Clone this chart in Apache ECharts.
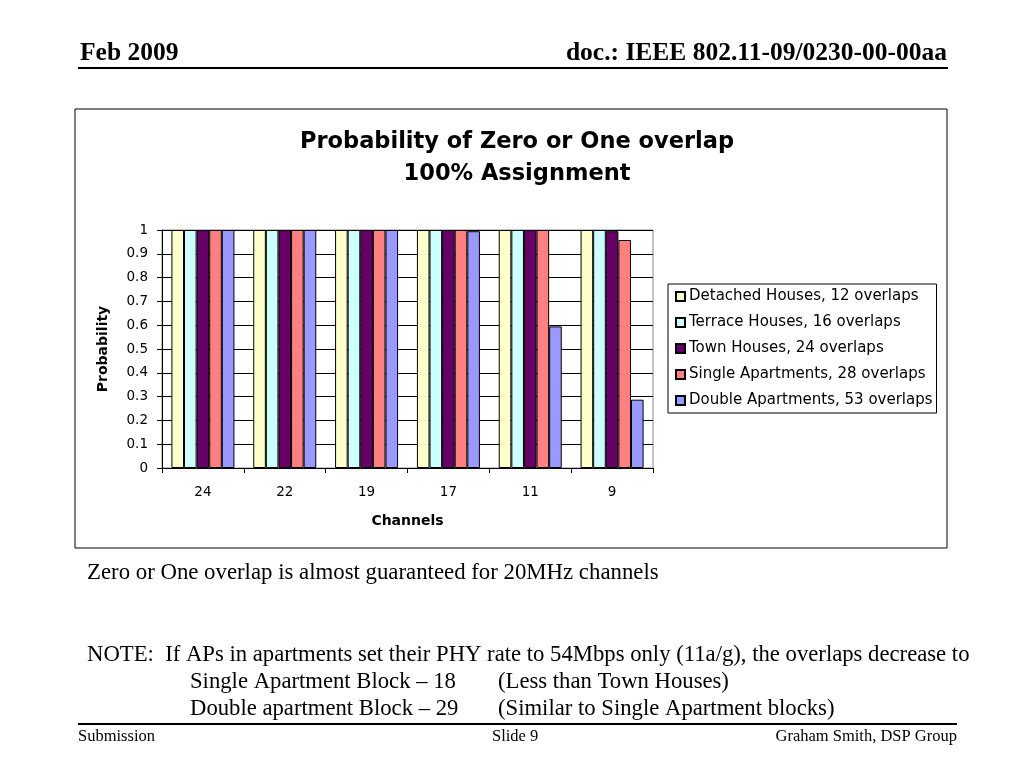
<!DOCTYPE html>
<html><head><meta charset="utf-8">
<script src="https://cdn.jsdelivr.net/npm/echarts@6/dist/echarts.min.js"></script>
<style>html,body{margin:0;padding:0;background:#fff}#c{width:1024px;height:768px}</style>
</head><body><div id="c"></div>
<script>
const categories = ['24','22','19','17','11','9'];
const seriesNames = ['Detached Houses, 12 overlaps','Terrace Houses, 16 overlaps','Town Houses, 24 overlaps','Single Apartments, 28 overlaps','Double Apartments, 53 overlaps'];
const detached = [1,1,1,1,1,1];
const terrace = [1,1,1,1,1,1];
const town = [1,1,1,1,1,0.995];
const single = [1,1,1,1,1,0.958];
const double_ = [1,1,1,0.995,0.595,0.287];
const colors = ['#FFFFCC','#CCFFFF','#660066','#FF8080','#9999FF'];
const yTicks = [0,0.1,0.2,0.3,0.4,0.5,0.6,0.7,0.8,0.9,1];

const values = [detached, terrace, town, single, double_];
const sans = 'DejaVu Sans';
const chart = echarts.init(document.getElementById('c'));
chart.setOption({
  animation:false,
  backgroundColor:'#fff',
  title:{text:'Probability of Zero or One overlap\n100% Assignment',left:512,textAlign:'center',top:121,
    textStyle:{fontFamily:sans,fontSize:22.5,fontWeight:'bold',color:'#000',lineHeight:32}},
  legend:{orient:'vertical',left:668,top:284,padding:[5,4,5,7],itemGap:11,
    itemWidth:9,itemHeight:9,icon:'rect',borderColor:'#000',borderWidth:1,
    textStyle:{fontFamily:sans,fontSize:15,color:'#000',padding:[0,0,0,-1]},
    data:seriesNames},
  grid:{left:162,top:230,width:491,height:238,show:true,borderColor:'#888',borderWidth:1},
  xAxis:{type:'category',data:categories,
    axisLine:{lineStyle:{color:'#000'}},axisTick:{show:true,length:5,lineStyle:{color:'#000'}},
    axisLabel:{fontFamily:sans,fontSize:13.5,color:'#000',margin:17},
    name:'Channels',nameLocation:'middle',nameGap:46,
    nameTextStyle:{fontFamily:sans,fontSize:14,fontWeight:'bold',color:'#000'}},
  yAxis:{type:'value',min:0,max:1,interval:0.1,
    axisLine:{show:true,lineStyle:{color:'#000'}},axisTick:{show:true,length:5,lineStyle:{color:'#000'}},
    axisLabel:{fontFamily:sans,fontSize:13.5,color:'#000',margin:14,formatter:v=>String(Math.round(v*10)/10)},
    splitLine:{lineStyle:{color:'#000'}},
    name:'Probability',nameLocation:'middle',nameGap:52,
    nameTextStyle:{fontFamily:sans,fontSize:14,fontWeight:'bold',color:'#000'}},
  series: seriesNames.map((n,i)=>({name:n,type:'bar',data:values[i],barGap:'0%',barCategoryGap:'23%',
    itemStyle:{color:colors[i],borderColor:'#000',borderWidth:1}})),
  graphic:[
    {type:'text',left:80,top:40,style:{text:'Feb 2009',font:'bold 25.5px "Liberation Serif"',fill:'#000'}},
    {type:'text',right:77,top:40,style:{text:'doc.: IEEE 802.11-09/0230-00-00aa',font:'bold 25.5px "Liberation Serif"',fill:'#000'}},
    {type:'line',shape:{x1:78,y1:68,x2:948,y2:68},style:{stroke:'#000',lineWidth:2}},
    {type:'rect',shape:{x:75,y:109,width:872,height:439},style:{fill:'none',stroke:'#000',lineWidth:1},z:-1},
    {type:'text',left:87,top:562,style:{text:'Zero or One overlap is almost guaranteed for 20MHz channels',font:'22.8px "Liberation Serif"',fill:'#000'}},
    {type:'text',left:87,top:644,style:{text:'NOTE:  If APs in apartments set their PHY rate to 54Mbps only (11a/g), the overlaps decrease to',font:'22.7px "Liberation Serif"',fill:'#000'}},
    {type:'text',left:190,top:671,style:{text:'Single Apartment Block \u2013 18',font:'22.7px "Liberation Serif"',fill:'#000'}},
    {type:'text',left:498,top:671,style:{text:'(Less than Town Houses)',font:'22.7px "Liberation Serif"',fill:'#000'}},
    {type:'text',left:190,top:698,style:{text:'Double apartment Block \u2013 29',font:'22.7px "Liberation Serif"',fill:'#000'}},
    {type:'text',left:498,top:698,style:{text:'(Similar to Single Apartment blocks)',font:'22.7px "Liberation Serif"',fill:'#000'}},
    {type:'line',shape:{x1:78,y1:724,x2:957,y2:724},style:{stroke:'#000',lineWidth:2}},
    {type:'text',left:78,top:728,style:{text:'Submission',font:'16.5px "Liberation Serif"',fill:'#000'}},
    {type:'text',left:492,top:728,style:{text:'Slide 9',font:'16.5px "Liberation Serif"',fill:'#000'}},
    {type:'text',right:67,top:728,style:{text:'Graham Smith, DSP Group',font:'16.5px "Liberation Serif"',fill:'#000'}}
  ]
});
</script></body></html>
